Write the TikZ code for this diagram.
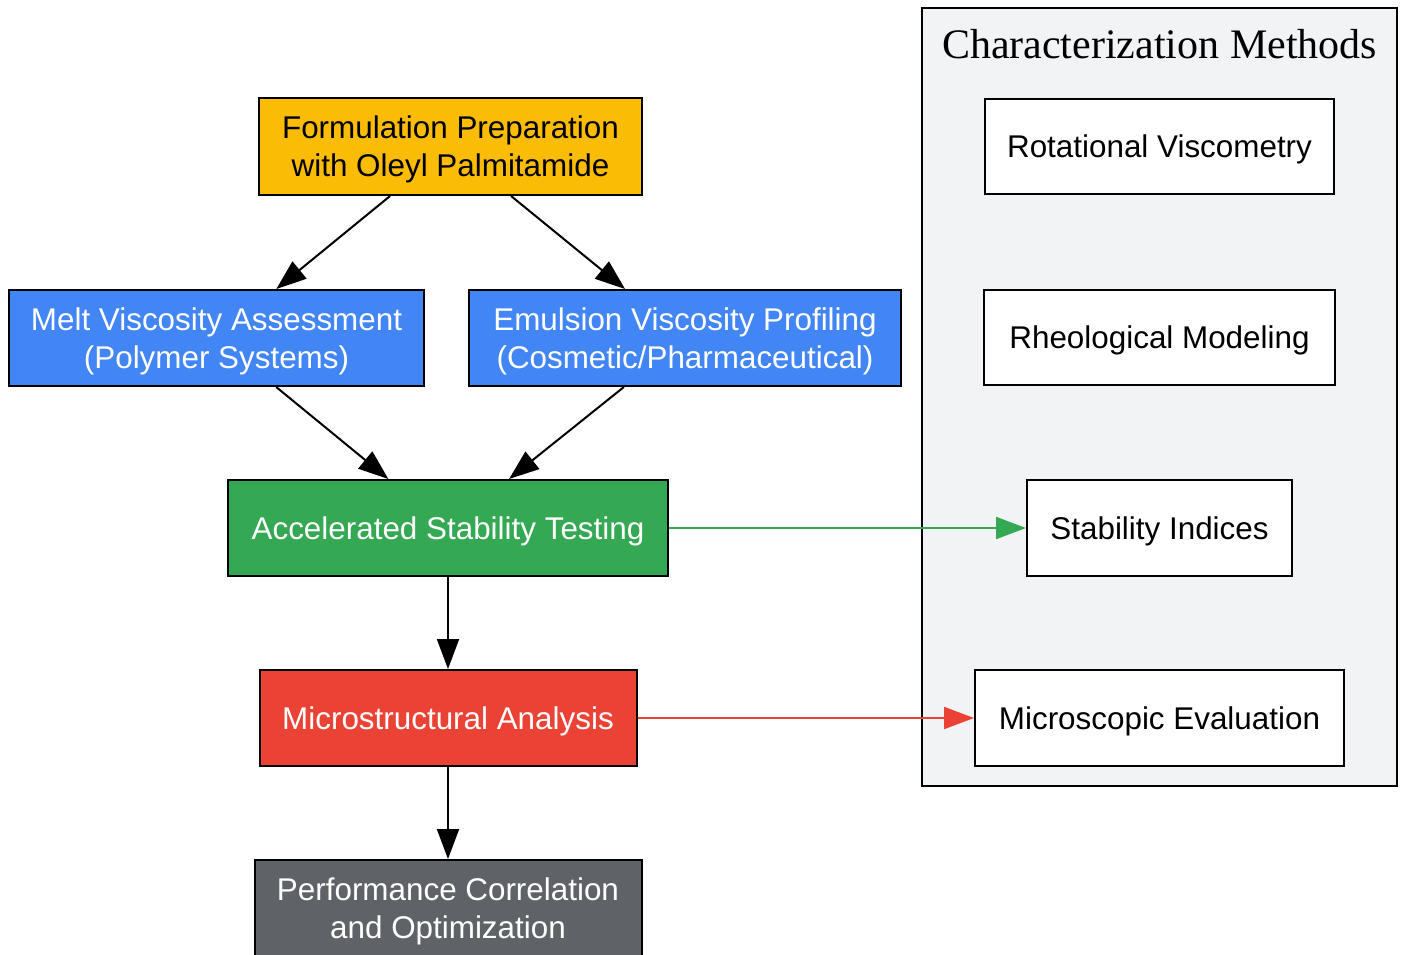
\documentclass[tikz,border=0pt]{standalone}
\usepackage{fontspec}
\setmainfont{Liberation Sans}
\newfontfamily\titlefont{Liberation Serif}
\usetikzlibrary{arrows.meta}

\definecolor{prepyellow}{HTML}{FBBC05}
\definecolor{meltblue}{HTML}{4285F4}
\definecolor{stabgreen}{HTML}{34A853}
\definecolor{micred}{HTML}{EA4335}
\definecolor{perfgray}{HTML}{5F6368}
\definecolor{clusterbg}{HTML}{F1F3F4}

\tikzset{
    stage/.style={draw=black, line width=1pt, inner sep=0pt, align=center,
        text depth=0pt, font=\fontsize{15.7}{19}\selectfont},
    method/.style={stage, fill=white},
    flow/.style={line width=1pt, -{Triangle[length=15pt,width=11pt]}}
}

\begin{document}
\begin{tikzpicture}[x=0.5pt,y=-0.5pt]

            \useasboundingbox (0,0) rectangle (1401,954);

            % characterization cluster

            \draw[line width=1pt, fill=clusterbg] (922, 8) rectangle (1397, 786);

            \node[font=\titlefont\fontsize{21}{25}\selectfont] (title) at (1159.5, 44) {Characterization Methods};

            \node[method, minimum width=174.5pt, minimum height=47.5pt] (rot) at (1159.5, 146.5) {Rotational Viscometry};
            \node[method, minimum width=175.5pt, minimum height=47.5pt] (rheo) at (1159.5, 337.5) {Rheological Modeling};
            \node[method, minimum width=132.5pt, minimum height=48pt] (stab) at (1159.5, 528) {Stability Indices};
            \node[method, minimum width=184.5pt, minimum height=48pt] (micev) at (1159.5, 718) {Microscopic Evaluation};

            % main flow

            \node[stage, fill=prepyellow, minimum width=191.5pt, minimum height=48.5pt] (prep) at (450.5, 146.5)
                {Formulation Preparation\\with Oleyl Palmitamide};

            \node[stage, fill=meltblue, text=white, minimum width=207.5pt, minimum height=48pt] (melt) at (216.5, 338)
                {Melt Viscosity Assessment\\(Polymer Systems)};

            \node[stage, fill=meltblue, text=white, minimum width=216pt, minimum height=48pt] (emul) at (685, 338)
                {Emulsion Viscosity Profiling\\(Cosmetic/Pharmaceutical)};

            \node[stage, fill=stabgreen, text=white, minimum width=220pt, minimum height=48pt] (accel) at (448, 528)
                {Accelerated Stability Testing};

            \node[stage, fill=micred, text=white, minimum width=188.5pt, minimum height=48pt] (micro) at (448, 718)
                {Microstructural Analysis};

            \node[stage, fill=perfgray, text=white, minimum width=193.5pt, minimum height=48pt] (perf) at (448, 908)
                {Performance Correlation\\and Optimization};

            \draw[flow] (prep) -- (melt);
            \draw[flow] (prep) -- (emul);
            \draw[flow] (melt) -- (accel);
            \draw[flow] (emul) -- (accel);
            \draw[flow] (accel) -- (micro);
            \draw[flow] (micro) -- (perf);

            \draw[flow, color=stabgreen] (accel) -- (stab);
            \draw[flow, color=micred] (micro) -- (micev);
        \end{tikzpicture}
\end{document}
